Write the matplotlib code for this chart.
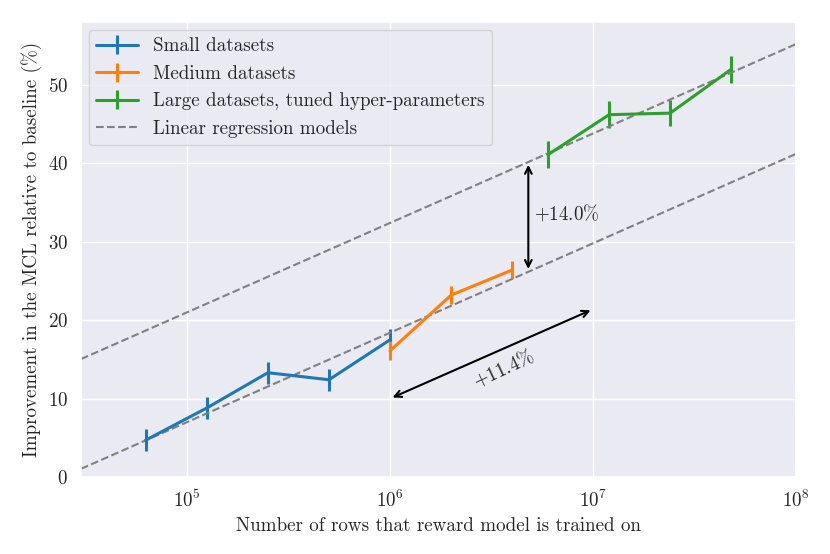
import matplotlib
matplotlib.use('Agg')
import matplotlib.pyplot as plt
import numpy as np
import seaborn as sns

small_x = [62500, 125000, 250000, 500000, 1000000]
small_y = [4.7, 8.8, 13.3, 12.4, 17.5]
small_err = [1.4, 1.4, 1.4, 1.4, 1.4]

medium_x = [1000000, 2000000, 4000000]
medium_y = [16.1, 23.2, 26.4]
medium_err = [1.2, 1.2, 1.2]

large_x = [6000000, 12000000, 24000000, 48000000]
large_y = [41.1, 46.2, 46.4, 52.0]
large_err = [1.7, 1.7, 1.7, 1.7]

slope = 11.4
intercept_low = -50.0
intercept_high = -36.0

sns.set_theme(style='darkgrid', palette='tab10')
plt.rcParams['font.family'] = 'serif'
plt.rcParams['font.serif'] = ['cmr10']
plt.rcParams['mathtext.fontset'] = 'cm'
plt.rcParams['axes.formatter.use_mathtext'] = True

fs = 13.7
fig, ax = plt.subplots(figsize=(8.3, 5.54), dpi=100)
fig.subplots_adjust(left=0.0976, right=0.959, top=0.960, bottom=0.139)

h1 = ax.errorbar(small_x, small_y, yerr=small_err, lw=2.2, elinewidth=2.2,
                 color='tab:blue', label='Small datasets')
h2 = ax.errorbar(medium_x, medium_y, yerr=medium_err, lw=2.2, elinewidth=2.2,
                 color='tab:orange', label='Medium datasets')
h3 = ax.errorbar(large_x, large_y, yerr=large_err, lw=2.2, elinewidth=2.2,
                 color='tab:green', label='Large datasets, tuned hyper-parameters')

xs = np.logspace(np.log10(3e4), 8, 50)
h4, = ax.plot(xs, slope * np.log10(xs) + intercept_high, '--', color='gray', lw=1.5,
              label='Linear regression models')
ax.plot(xs, slope * np.log10(xs) + intercept_low, '--', color='gray', lw=1.5)

ax.set_xscale('log')
ax.set_xlim(3e4, 1e8)
ax.set_ylim(0, 58)
ax.set_yticks([0, 10, 20, 30, 40, 50])
ax.tick_params(labelsize=fs)

# vertical gap between the two regression lines
xa = 4.8e6
ax.annotate('', xy=(xa, slope * np.log10(xa) + intercept_high),
            xytext=(xa, slope * np.log10(xa) + intercept_low),
            arrowprops=dict(arrowstyle='<->', color='black', lw=1.5))
ax.text(5.1e6, 33.6, r'$+14.0\%$', fontsize=fs, va='center', ha='left', color='#262626')

# one decade step along the lower line
ax.annotate('', xy=(1e7, 21.4), xytext=(1e6, 10),
            arrowprops=dict(arrowstyle='<->', color='black', lw=1.5))
ax.text(3.6e6, 13.9, r'$+11.4\%$', fontsize=fs, va='center', ha='center',
        rotation=25, color='#262626')

ax.set_xlabel('Number of rows that reward model is trained on', fontsize=fs)
ax.set_ylabel('Improvement in the MCL relative to baseline (%)', fontsize=fs)
ax.legend(handles=[h1, h2, h3, h4], loc='upper left', fontsize=fs,
          borderaxespad=0.4, handlelength=2.2)

fig.savefig('out.png')
